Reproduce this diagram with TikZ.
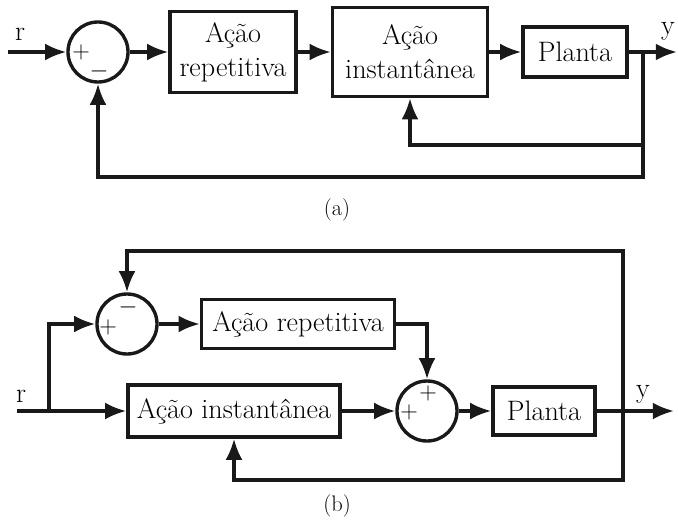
\documentclass[tikz,border=0pt]{standalone}
\usepackage{fontspec}
\usetikzlibrary{arrows.meta}

\begin{document}
\begin{tikzpicture}[
        x=0.025cm, y=-0.025cm,
        bloco/.style={rectangle, draw=black!90, line width=2.4pt, align=center, inner sep=2pt, font=\fontsize{20}{24}\selectfont},
        somador/.style={circle, draw=black!90, line width=2.4pt, minimum size=1.5cm, inner sep=0pt},
        linha/.style={line width=2.4pt, draw=black!90},
        seta/.style={linha, -{Latex[length=15pt, width=12pt]}},
        sinal/.style={font=\fontsize{16}{18}\selectfont, inner sep=0pt},
        rotulo/.style={font=\fontsize{20}{24}\selectfont, inner sep=0pt},
        legenda/.style={font=\fontsize{16}{19}\selectfont}
    ]
        \useasboundingbox (0,0) rectangle (678,521);

        % (a) Blocos em serie
        \node[somador] (soma1) at (98,52) {};
        \node[bloco, minimum width=3.15cm, minimum height=2.025cm] (rep1) at (233,52) {Ação\\repetitiva};
        \node[bloco, minimum width=3.875cm, minimum height=2.225cm] (inst1) at (410,52) {Ação\\instantânea};
        \node[bloco, minimum width=2.6cm, minimum height=1.25cm] (planta1) at (575,52) {Planta};
        \node[sinal] (mais1) at (81,52) {$+$};
        \node[sinal] (menos1) at (99,71) {$-$};
        \node[rotulo] (r1) at (20,34) {r};
        \node[rotulo] (y1) at (668,31) {y};

        \coordinate (ra) at (8,52);
        \coordinate (ya) at (677,52);
        \coordinate (ramo1) at (643,52);
        \coordinate (c1) at (643,145);
        \coordinate (c2) at (643,177);

        \draw[seta] (ra) -- (soma1);
        \draw[seta] (soma1) -- (rep1);
        \draw[seta] (rep1) -- (inst1);
        \draw[seta] (inst1) -- (planta1);
        \draw[seta] (planta1) -- (ya);
        \draw[seta] (ramo1) -- (c1) -| (inst1.south);
        \draw[seta] (c1) -- (c2) -| (soma1.south);

        \node[legenda] (capa) at (337,210) {(a)};

        % (b) Blocos em paralelo
        \node[somador] (soma2) at (127,324) {};
        \node[bloco, minimum width=4.825cm, minimum height=1.225cm] (rep2) at (298,324) {Ação repetitiva};
        \node[bloco, minimum width=5.3cm, minimum height=1.3cm] (inst2) at (234,411) {Ação instantânea};
        \node[somador] (soma3) at (427,411) {};
        \node[bloco, minimum width=2.55cm, minimum height=1.2cm] (planta2) at (544,411) {Planta};
        \node[sinal] (mais2) at (108,327) {$+$};
        \node[sinal] (menos2) at (128,307) {$-$};
        \node[sinal] (mais3) at (409,412) {$+$};
        \node[sinal] (mais4) at (428,393) {$+$};
        \node[rotulo] (r2) at (21,396) {r};
        \node[rotulo] (y2) at (643,394) {y};

        \coordinate (rb) at (17,411);
        \coordinate (ramo2) at (49,411);
        \coordinate (yb) at (674,411);
        \coordinate (ramo3) at (623,411);
        \coordinate (c3) at (623,251);
        \coordinate (c4) at (623,480);

        \draw[linha] (rb) -- (ramo2);
        \draw[seta] (ramo2) -- (inst2);
        \draw[seta] (ramo2) |- (soma2.west);
        \draw[seta] (soma2) -- (rep2);
        \draw[seta] (rep2.east) -| (soma3.north);
        \draw[seta] (inst2) -- (soma3);
        \draw[seta] (soma3) -- (planta2);
        \draw[seta] (planta2) -- (yb);
        \draw[seta] (ramo3) -- (c3) -| (soma2.north);
        \draw[seta] (ramo3) -- (c4) -| (inst2.south);

        \node[legenda] (capb) at (337,506) {(b)};
    \end{tikzpicture}
\end{document}
